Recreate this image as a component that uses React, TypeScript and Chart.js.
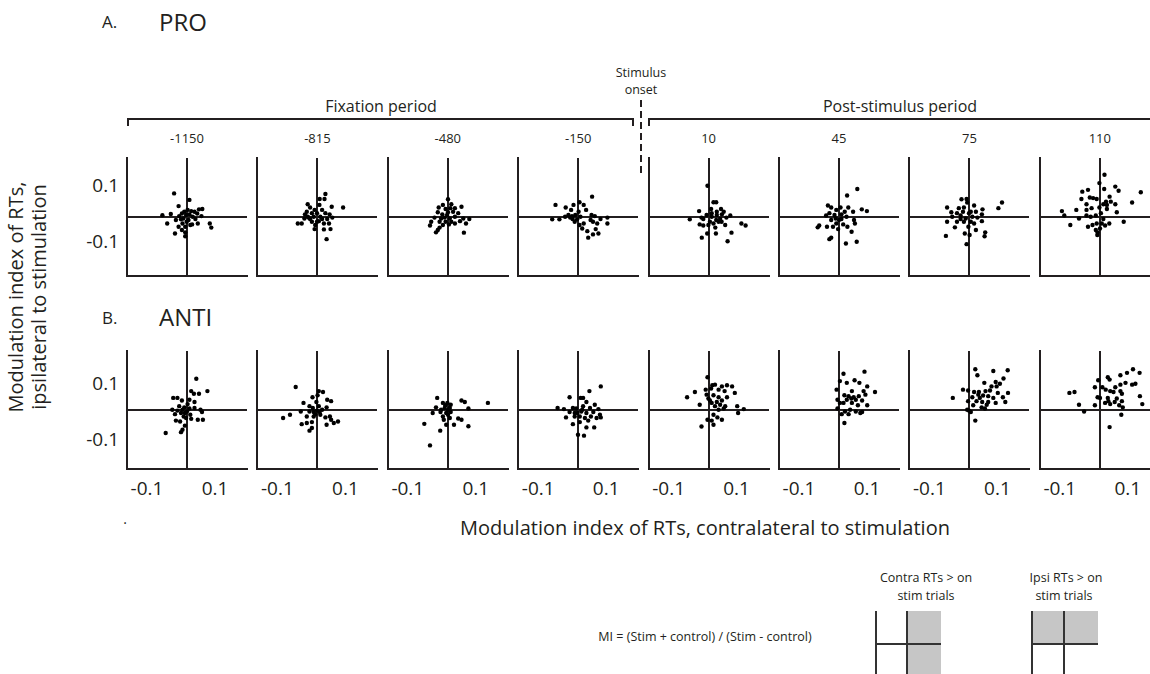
import React, { useEffect, useRef } from "react";
import { Chart, registerables } from "chart.js";

Chart.register(...registerables);

// ---------- data ----------
const timeLabels = ["-1150", "-815", "-480", "-150", "10", "45", "75", "110"];
const axisMin = -0.2;
const axisMax = 0.2;
const tickLabels = ["-0.1", "0.1"];

type Pt = [number, number];

const pro_m1150: Pt[] = [[-0.043,0.080],[0.008,0.058],[-0.028,0.037],[-0.082,0.006],[-0.054,0.010],[-0.066,-0.022],[-0.040,-0.056],[-0.006,-0.052],[-0.006,-0.065],[0.076,-0.022],[0.081,-0.036],[0.051,0.027],[0.040,0.026],[0.034,0.012],[0.048,0.003],[0.028,-0.007],[0.036,-0.022],[0.017,-0.025],[0.002,0.024],[0.014,0.020],[-0.017,0.012],[-0.026,0.003],[-0.012,-0.005],[-0.003,0.007],[0.005,-0.010],[-0.028,-0.033],[-0.015,-0.022],[-0.037,-0.010],[-0.006,-0.033],[0.019,0.001],[-0.009,0.018],[0.008,0.009],[-0.020,-0.008],[0.025,0.018],[-0.001,-0.016],[-0.017,-0.044],[0.011,-0.027]];
const pro_m815: Pt[] = [[0.028,0.078],[0.009,0.061],[0.025,0.061],[-0.031,0.043],[-0.023,0.032],[0.008,0.041],[0.049,0.035],[0.087,0.032],[0.017,0.024],[-0.008,0.024],[-0.034,0.018],[-0.040,0.009],[-0.017,0.013],[0.000,0.013],[0.028,0.013],[0.042,0.009],[-0.042,-0.005],[-0.028,-0.002],[-0.011,0.001],[0.011,0.001],[0.051,-0.002],[-0.051,-0.022],[-0.064,-0.022],[-0.017,-0.016],[0.006,-0.014],[0.023,-0.022],[0.040,-0.022],[-0.006,-0.027],[-0.008,-0.041],[0.023,-0.042],[0.045,-0.041],[0.032,-0.075],[-0.023,-0.007],[0.017,-0.007],[0.000,-0.016],[0.034,-0.007],[-0.031,0.001]];
const pro_m480: Pt[] = [[0.000,0.060],[0.011,0.043],[-0.017,0.041],[-0.031,0.032],[-0.008,0.027],[0.023,0.030],[0.045,0.035],[-0.034,0.016],[-0.019,0.009],[0.000,0.016],[0.017,0.018],[0.034,0.013],[-0.045,-0.002],[-0.011,-0.002],[0.006,-0.005],[0.023,0.001],[0.051,-0.005],[0.071,-0.007],[0.040,-0.014],[0.060,-0.022],[-0.056,-0.016],[-0.060,-0.029],[-0.028,-0.016],[-0.008,-0.016],[0.011,-0.016],[-0.028,-0.036],[-0.040,-0.052],[-0.034,-0.044],[0.053,-0.053],[0.003,-0.025],[-0.017,-0.027],[0.023,-0.022],[-0.003,0.007],[0.008,0.030],[-0.023,-0.005]];
const pro_m150: Pt[] = [[0.047,0.069],[-0.075,0.041],[-0.041,0.032],[-0.015,0.041],[0.005,0.050],[0.019,0.041],[0.027,0.024],[-0.023,0.024],[-0.086,-0.008],[-0.062,-0.008],[-0.043,0.001],[-0.026,-0.002],[-0.009,0.007],[-0.003,-0.008],[0.008,0.001],[0.045,0.007],[0.056,0.003],[0.075,-0.007],[0.098,-0.002],[0.098,-0.022],[-0.011,-0.016],[0.005,-0.027],[0.019,-0.022],[0.050,-0.016],[0.064,-0.022],[0.031,-0.048],[0.059,-0.041],[0.050,-0.059],[0.068,-0.056],[0.034,-0.070],[0.014,-0.039],[-0.018,-0.007],[-0.032,0.007],[0.002,0.018],[0.042,-0.010],[-0.020,0.003]];
const pro_p10: Pt[] = [[-0.005,0.106],[0.015,0.050],[0.024,0.050],[-0.033,0.020],[0.007,0.027],[0.040,0.027],[0.049,0.018],[-0.025,-0.002],[-0.064,-0.008],[-0.019,-0.007],[0.009,0.001],[0.026,0.007],[0.043,0.009],[0.071,0.005],[0.058,-0.002],[0.024,-0.010],[0.032,-0.016],[0.015,-0.022],[-0.031,-0.025],[-0.019,-0.029],[-0.002,-0.027],[0.054,-0.027],[0.108,-0.022],[0.122,-0.029],[-0.006,-0.056],[0.023,-0.056],[0.075,-0.053],[-0.024,-0.070],[0.062,-0.082],[0.037,-0.007],[0.009,0.013],[-0.008,0.007],[0.003,-0.016],[0.021,-0.036],[0.042,-0.016],[0.026,0.018]];
const pro_p45: Pt[] = [[0.061,0.095],[0.027,0.073],[-0.037,0.039],[-0.026,0.032],[0.005,0.032],[0.031,0.032],[0.076,0.026],[0.093,0.020],[0.047,0.018],[-0.009,0.024],[-0.032,0.013],[-0.043,0.005],[-0.015,0.007],[0.008,0.009],[0.025,0.001],[0.050,-0.010],[0.053,-0.022],[-0.011,-0.005],[0.000,-0.010],[-0.026,-0.010],[-0.066,-0.029],[-0.071,-0.035],[-0.040,-0.033],[-0.020,-0.033],[-0.003,-0.041],[0.028,-0.033],[0.042,-0.050],[-0.026,-0.070],[-0.032,-0.075],[0.023,-0.090],[0.059,-0.084],[0.014,-0.025],[-0.009,-0.022],[0.019,0.018],[0.008,-0.007]];
const pro_p75: Pt[] = [[0.110,0.049],[0.098,0.030],[-0.025,0.060],[-0.008,0.061],[-0.006,0.049],[-0.073,0.032],[-0.034,0.030],[-0.017,0.032],[0.017,0.039],[0.045,0.026],[-0.059,0.016],[-0.040,0.013],[-0.020,0.018],[0.006,0.018],[0.023,0.018],[0.043,0.009],[-0.056,0.001],[-0.028,0.005],[-0.011,-0.005],[0.011,0.001],[0.028,-0.002],[-0.073,-0.016],[-0.040,-0.016],[-0.017,-0.016],[0.006,-0.016],[0.043,-0.014],[-0.047,-0.035],[-0.002,-0.033],[0.023,-0.044],[-0.014,-0.056],[0.002,-0.061],[0.054,-0.052],[0.052,-0.065],[-0.077,-0.064],[-0.008,-0.092],[0.000,0.013],[-0.028,-0.007],[0.017,-0.022]];
const pro_p110: Pt[] = [[0.015,0.143],[-0.002,0.115],[-0.059,0.086],[-0.040,0.092],[0.014,0.095],[0.051,0.103],[0.062,0.089],[0.136,0.084],[-0.062,0.061],[-0.034,0.066],[-0.023,0.064],[-0.011,0.061],[0.032,0.069],[0.020,0.052],[0.036,0.052],[0.051,0.043],[0.107,0.049],[-0.045,0.043],[0.011,0.043],[-0.002,0.032],[-0.028,0.030],[-0.079,0.024],[-0.127,0.020],[-0.045,0.024],[0.023,0.027],[0.056,0.016],[-0.119,0.005],[-0.070,-0.005],[-0.045,0.005],[-0.031,0.001],[-0.014,0.005],[0.003,0.013],[0.079,-0.016],[-0.099,-0.027],[-0.040,-0.033],[-0.025,-0.027],[-0.011,-0.022],[0.006,-0.022],[0.017,-0.029],[0.031,-0.022],[-0.014,-0.044],[-0.008,-0.052],[-0.009,-0.061],[0.000,-0.039],[0.011,-0.007],[0.023,0.041]];

const anti_m1150: Pt[] = [[0.031,0.106],[0.068,0.064],[0.014,0.064],[0.023,0.055],[0.040,0.055],[-0.046,0.041],[-0.032,0.041],[-0.017,0.032],[0.008,0.035],[0.025,0.027],[0.002,0.020],[-0.026,0.013],[-0.009,0.009],[-0.049,0.001],[-0.032,-0.002],[-0.015,0.001],[0.008,0.005],[0.025,0.007],[0.045,0.001],[0.050,-0.007],[-0.040,-0.014],[-0.020,-0.010],[-0.007,-0.010],[0.011,-0.016],[-0.037,-0.036],[-0.023,-0.039],[-0.003,-0.027],[0.014,-0.030],[0.036,-0.033],[0.053,-0.033],[-0.007,-0.053],[-0.015,-0.067],[-0.020,-0.075],[-0.071,-0.078],[0.000,-0.005],[-0.011,-0.022]];
const anti_m815: Pt[] = [[-0.071,0.078],[0.006,0.064],[0.020,0.061],[0.002,0.050],[-0.015,0.043],[0.034,0.035],[0.047,0.030],[-0.045,0.024],[-0.002,0.027],[-0.025,0.013],[-0.014,0.007],[0.006,0.013],[0.032,0.009],[-0.054,-0.005],[-0.025,-0.005],[0.000,-0.002],[0.017,0.001],[-0.090,-0.016],[-0.113,-0.027],[-0.034,-0.022],[-0.011,-0.022],[0.011,-0.016],[0.028,-0.025],[0.043,-0.022],[0.047,-0.033],[0.070,-0.039],[0.056,-0.044],[-0.051,-0.048],[-0.034,-0.044],[-0.017,-0.041],[0.032,-0.050],[-0.025,-0.070],[-0.017,-0.061],[-0.006,-0.014],[0.009,-0.007],[-0.011,-0.007]];
const anti_m480: Pt[] = [[-0.036,0.041],[0.045,0.032],[0.056,0.027],[0.133,0.024],[0.068,0.005],[-0.017,0.024],[-0.002,0.024],[0.009,0.018],[-0.040,0.009],[-0.011,0.007],[0.006,0.007],[-0.051,-0.010],[-0.025,-0.007],[-0.006,-0.010],[0.009,-0.007],[-0.017,-0.022],[0.006,-0.027],[0.034,-0.029],[0.045,-0.033],[0.020,-0.050],[0.068,-0.055],[-0.079,-0.047],[-0.006,-0.050],[-0.026,-0.070],[-0.060,-0.120],[0.000,0.001],[-0.009,0.016],[0.000,-0.016],[-0.014,-0.033],[-0.023,0.001]];
const anti_m150: Pt[] = [[0.076,0.080],[0.038,0.064],[-0.028,0.043],[0.009,0.041],[0.017,0.041],[0.028,0.027],[0.056,0.018],[-0.068,0.007],[-0.047,0.003],[-0.017,0.007],[-0.006,0.005],[0.017,0.013],[0.040,0.007],[0.068,0.003],[-0.028,-0.007],[-0.011,-0.010],[0.011,-0.005],[0.028,-0.010],[0.051,-0.007],[0.073,-0.016],[0.076,-0.025],[-0.040,-0.025],[-0.011,-0.022],[0.006,-0.022],[0.023,-0.027],[0.043,-0.022],[0.062,-0.027],[-0.017,-0.048],[0.006,-0.041],[0.028,-0.059],[0.054,-0.059],[0.000,-0.084],[0.020,-0.087],[-0.002,-0.010],[0.014,0.001],[0.034,-0.036]];
const anti_p10: Pt[] = [[-0.005,0.111],[0.011,0.084],[0.020,0.086],[0.043,0.080],[0.060,0.084],[0.077,0.080],[-0.011,0.069],[0.007,0.073],[0.032,0.069],[0.052,0.064],[0.086,0.058],[-0.047,0.061],[-0.073,0.043],[-0.008,0.052],[0.015,0.050],[0.032,0.043],[0.060,0.043],[0.003,0.032],[0.026,0.027],[0.043,0.032],[-0.031,0.018],[0.020,0.013],[0.037,0.018],[0.054,0.013],[0.094,0.013],[0.032,0.001],[0.049,0.005],[0.116,0.003],[0.097,-0.010],[0.015,-0.016],[0.028,-0.025],[0.043,-0.033],[-0.005,-0.033],[0.009,-0.036],[-0.025,-0.056],[0.015,-0.050],[-0.002,0.039],[0.009,0.024]];
const anti_p45: Pt[] = [[0.015,0.123],[0.085,0.130],[0.003,0.098],[0.026,0.092],[0.052,0.101],[0.068,0.092],[0.094,0.080],[-0.008,0.069],[0.043,0.064],[0.082,0.064],[0.120,0.061],[0.018,0.050],[0.032,0.047],[0.049,0.043],[0.066,0.047],[0.088,0.052],[-0.005,0.035],[0.026,0.035],[0.041,0.039],[0.056,0.035],[0.077,0.032],[0.015,0.024],[0.063,0.016],[0.094,0.016],[-0.005,0.005],[0.020,-0.005],[0.037,0.001],[0.056,-0.005],[0.077,-0.007],[0.032,-0.014],[0.071,-0.010],[0.009,-0.014],[0.018,-0.044],[0.003,0.024],[0.043,0.024]];
const anti_p75: Pt[] = [[0.021,0.138],[0.028,0.118],[0.081,0.132],[0.129,0.135],[0.115,0.107],[0.051,0.092],[0.089,0.095],[0.103,0.089],[0.075,0.080],[0.092,0.080],[-0.020,0.069],[-0.003,0.066],[0.017,0.061],[0.033,0.061],[0.055,0.064],[0.070,0.066],[0.096,0.058],[0.130,0.058],[-0.054,0.041],[0.011,0.043],[0.036,0.041],[0.047,0.049],[0.064,0.047],[0.081,0.041],[0.113,0.043],[-0.003,0.030],[0.025,0.030],[0.044,0.027],[0.064,0.027],[0.089,0.024],[0.121,0.027],[0.014,0.016],[0.042,0.009],[0.053,0.005],[0.000,-0.002],[0.006,-0.007],[-0.006,0.001],[0.021,-0.036],[0.031,0.052],[0.059,0.018]];
const anti_p110: Pt[] = [[0.175,0.149],[0.110,0.138],[0.132,0.126],[0.090,0.126],[0.068,0.118],[0.026,0.111],[0.032,0.103],[-0.006,0.101],[0.068,0.086],[0.085,0.092],[0.107,0.086],[0.118,0.089],[-0.017,0.077],[0.008,0.077],[0.019,0.069],[0.051,0.077],[-0.102,0.058],[-0.085,0.061],[0.034,0.064],[0.045,0.061],[0.068,0.064],[0.073,0.055],[0.133,0.047],[-0.008,0.043],[0.026,0.041],[0.056,0.039],[0.028,0.030],[0.049,0.027],[0.073,0.030],[0.017,0.024],[0.034,0.020],[-0.017,0.016],[-0.070,0.018],[0.064,0.016],[0.076,0.009],[0.141,0.020],[-0.053,-0.005],[0.071,-0.016],[0.032,-0.058],[0.000,0.041]];

const proPanels = [pro_m1150, pro_m815, pro_m480, pro_m150, pro_p10, pro_p45, pro_p75, pro_p110];
const antiPanels = [anti_m1150, anti_m815, anti_m480, anti_m150, anti_p10, anti_p45, anti_p75, anti_p110];

// ---------- layout ----------
const INK = "#231f20";
const FONT = "'Open Sans', 'Noto Sans', sans-serif";
const PAD = 5;
const PANEL_W = 120;
const PANEL_H = 118;
const panelLeft = (k: number) => 127 + 130.4 * k;
const ROW_A_TOP = 158;
const ROW_B_TOP = 351;

function Panel({ data, left, top }: { data: Pt[]; left: number; top: number }) {
  const ref = useRef<HTMLCanvasElement | null>(null);
  useEffect(() => {
    if (!ref.current) return;
    const axisLine = (ctx: any) => (ctx.tick && ctx.tick.value === 0 ? INK : "rgba(0,0,0,0)");
    const chart = new Chart(ref.current, {
      type: "scatter",
      data: {
        datasets: [
          {
            data: data.map(([x, y]) => ({ x, y })),
            pointRadius: 2.2,
            pointBorderWidth: 0,
            pointBackgroundColor: "#000",
            pointBorderColor: "#000",
            clip: false as any,
          },
        ],
      },
      options: {
        animation: false,
        responsive: false,
        maintainAspectRatio: false,
        devicePixelRatio: 1,
        events: [],
        layout: { padding: PAD },
        plugins: { legend: { display: false }, tooltip: { enabled: false } },
        scales: {
          x: {
            type: "linear",
            min: axisMin,
            max: axisMax,
            ticks: { display: false, stepSize: 0.1 },
            grid: { drawTicks: false, color: axisLine, lineWidth: 2 },
            border: { display: true, width: 2, color: INK },
          },
          y: {
            type: "linear",
            min: axisMin,
            max: axisMax,
            ticks: { display: false, stepSize: 0.1 },
            grid: { drawTicks: false, color: axisLine, lineWidth: 2 },
            border: { display: true, width: 2, color: INK },
          },
        },
      } as any,
    });
    return () => chart.destroy();
  }, [data, left, top]);
  const w = PANEL_W + 2 * PAD;
  const h = PANEL_H + 2 * PAD;
  return (
    <canvas
      ref={ref}
      width={w}
      height={h}
      style={{ position: "absolute", left: left - PAD, top: top - PAD, width: w, height: h }}
    />
  );
}

function Txt({
  x,
  y,
  size,
  children,
  align = "center",
}: {
  x: number;
  y: number;
  size: number;
  children: React.ReactNode;
  align?: "center" | "left" | "right";
}) {
  const tx = align === "center" ? "-50%" : align === "right" ? "-100%" : "0";
  return (
    <div
      style={{
        position: "absolute",
        left: x,
        top: y,
        transform: `translate(${tx}, -50%)`,
        fontSize: size,
        fontFamily: FONT,
        color: INK,
        whiteSpace: "nowrap",
        lineHeight: 1.2,
      }}
    >
      {children}
    </div>
  );
}

const line = (left: number, top: number, width: number, height: number, bg = INK) => (
  <div style={{ position: "absolute", left, top, width, height, background: bg }} />
);

export default function App() {
  return (
    <div
      style={{
        position: "fixed",
        left: 0,
        top: 0,
        width: 1150,
        height: 674,
        overflow: "hidden",
        background: "#fff",
      }}
    >
      {/* headers */}
      <Txt x={102} y={22} size={17} align="left">A.</Txt>
      <Txt x={159} y={22} size={24} align="left">PRO</Txt>
      <Txt x={102} y={318} size={17} align="left">B.</Txt>
      <Txt x={159} y={317} size={24} align="left">ANTI</Txt>

      {/* periods */}
      <Txt x={381} y={107} size={16}>Fixation period</Txt>
      <Txt x={900} y={107} size={16}>Post-stimulus period</Txt>
      <Txt x={641} y={72} size={12.5}>Stimulus</Txt>
      <Txt x={641} y={89} size={12.5}>onset</Txt>

      {/* brackets */}
      {line(127, 118, 507, 2)}
      {line(127, 118, 2, 8)}
      {line(632, 118, 2, 8)}
      {line(648, 118, 510, 2)}
      {line(648, 118, 2, 8)}
      <div
        style={{
          position: "absolute",
          left: 640,
          top: 100,
          width: 2,
          height: 76,
          background: `repeating-linear-gradient(to bottom, ${INK} 0 7px, transparent 7px 11px)`,
        }}
      />

      {/* time labels */}
      {timeLabels.map((t, k) => (
        <Txt key={t} x={panelLeft(k) + 60} y={139} size={13}>
          {t}
        </Txt>
      ))}

      {/* panels */}
      {proPanels.map((d, k) => (
        <Panel key={"a" + k} data={d} left={panelLeft(k)} top={ROW_A_TOP} />
      ))}
      {antiPanels.map((d, k) => (
        <Panel key={"b" + k} data={d} left={panelLeft(k)} top={ROW_B_TOP} />
      ))}

      {/* y tick labels */}
      <Txt x={119} y={185} size={19} align="right">{tickLabels[1]}</Txt>
      <Txt x={119} y={241} size={19} align="right">{tickLabels[0]}</Txt>
      <Txt x={119} y={383} size={19} align="right">{tickLabels[1]}</Txt>
      <Txt x={119} y={439} size={19} align="right">{tickLabels[0]}</Txt>

      {/* x tick labels */}
      {timeLabels.map((t, k) => (
        <React.Fragment key={"xt" + t}>
          <Txt x={panelLeft(k) + 20} y={488} size={19}>{tickLabels[0]}</Txt>
          <Txt x={panelLeft(k) + 88} y={488} size={19}>{tickLabels[1]}</Txt>
        </React.Fragment>
      ))}

      {/* axis titles */}
      <div
        style={{
          position: "absolute",
          left: 27,
          top: 297,
          transform: "translate(-50%, -50%) rotate(-90deg)",
          fontSize: 20,
          fontFamily: FONT,
          color: INK,
          whiteSpace: "nowrap",
          textAlign: "center",
          lineHeight: "23px",
        }}
      >
        Modulation index of RTs,
        <br />
        ipsilateral to stimulation
      </div>
      <Txt x={705} y={528} size={20}>Modulation index of RTs, contralateral to stimulation</Txt>
      <Txt x={125} y={519} size={14}>.</Txt>

      {/* MI legend */}
      <Txt x={705} y={636} size={12.5}>MI = (Stim + control) / (Stim - control)</Txt>
      <Txt x={926} y={577} size={12.5}>Contra RTs &gt; on</Txt>
      <Txt x={926} y={595} size={12.5}>stim trials</Txt>
      <Txt x={1066} y={577} size={12.5}>Ipsi RTs &gt; on</Txt>
      <Txt x={1064} y={595} size={12.5}>stim trials</Txt>

      {/* schematic 1 */}
      {line(906, 611, 35, 63, "#c6c6c6")}
      {line(875, 611, 1.5, 63, "#333")}
      {line(906, 611, 1.5, 63, "#333")}
      {line(875, 643, 66, 1.5, "#333")}
      {/* schematic 2 */}
      {line(1031, 611, 67, 33, "#c6c6c6")}
      {line(1031, 611, 1.5, 63, "#333")}
      {line(1063, 611, 1.5, 63, "#333")}
      {line(1031, 643, 67, 1.5, "#333")}
    </div>
  );
}
